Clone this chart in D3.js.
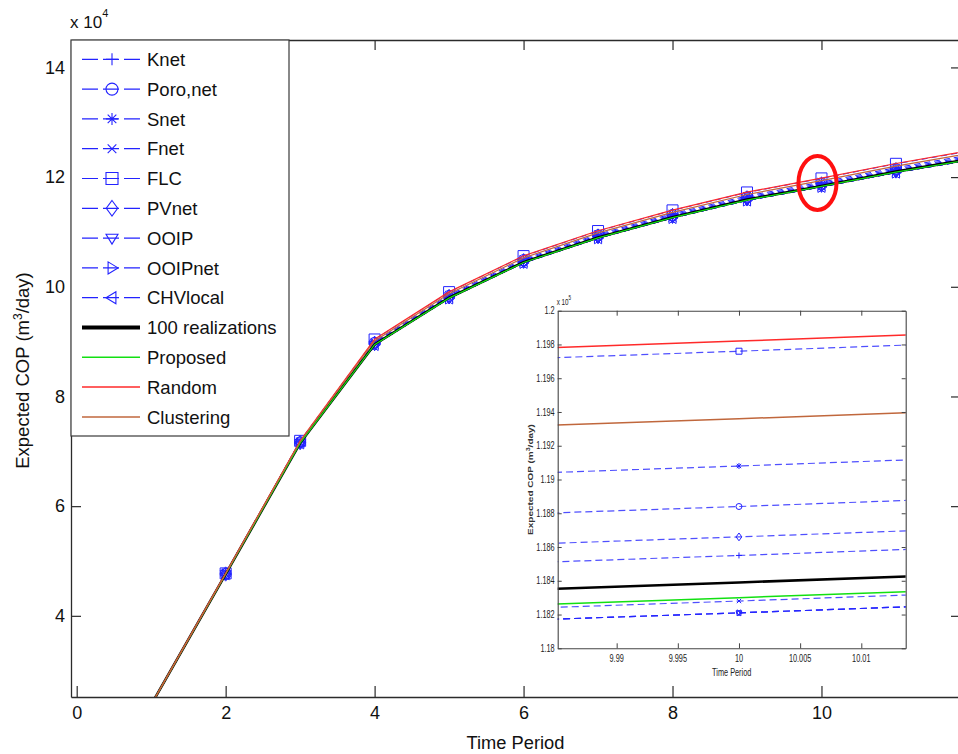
<!DOCTYPE html>
<html>
<head>
<meta charset="utf-8">
<script src="https://cdn.jsdelivr.net/npm/d3@7"></script>
<style>
  body { margin: 0; background: #fff; }
  svg { display: block; font-family: Arial, "Liberation Sans", sans-serif; }
</style>
</head>
<body>
<svg id="chart" width="958" height="754"></svg>
<script>
// ---- data: expected cumulative oil production per time period ----
const timePeriods   = [1, 2, 3, 4, 5, 6, 7, 8, 9, 10, 11, 12];
const knet          = [23800, 47616, 71548, 89604, 98120, 104628, 109136, 112844, 116052, 118550, 121166, 123473];
const poroNet       = [23800, 47645, 71635, 89793, 98338, 104860, 109383, 113105, 116328, 118840, 121468, 123786];
const snet          = [23800, 47669, 71707, 89949, 98518, 105052, 109587, 113321, 116556, 119080, 121718, 124045];
const fnet          = [23800, 47589, 71467, 89428, 97917, 104412, 108906, 112601, 115795, 118280, 120886, 123181];
const flc           = [23800, 47737, 71911, 90391, 99028, 105596, 110165, 113933, 117202, 119760, 122425, 124780];
const pvNet         = [23800, 47627, 71581, 89676, 98203, 104716, 109230, 112943, 116157, 118660, 121281, 123592];
const ooip          = [23800, 47582, 71446, 89383, 97865, 104356, 108847, 112538, 115729, 118210, 120813, 123106];
const ooipNet       = [23800, 47582, 71446, 89383, 97865, 104356, 108847, 112538, 115729, 118210, 120813, 123106];
const chvLocal      = [23800, 47582, 71446, 89383, 97865, 104356, 108847, 112538, 115729, 118210, 120813, 123106];
const realizations  = [23800, 47600, 71500, 89500, 98000, 104500, 109000, 112700, 115900, 118390, 121000, 123300];
const proposed      = [23800, 47591, 71473, 89441, 97932, 104428, 108923, 112619, 115814, 118300, 120906, 123203];
const randomSel     = [23800, 47743, 71929, 90430, 99073, 105644, 110216, 113987, 117259, 119820, 122487, 124844];
const clustering    = [23800, 47697, 71791, 90131, 98728, 105276, 109825, 113573, 116822, 119360, 122009, 124348];

const seriesNames = ["Knet", "Poro,net", "Snet", "Fnet", "FLC", "PVnet", "OOIP", "OOIPnet", "CHVlocal",
                     "100 realizations", "Proposed", "Random", "Clustering"];
const seriesValues = [knet, poroNet, snet, fnet, flc, pvNet, ooip, ooipNet, chvLocal,
                      realizations, proposed, randomSel, clustering];

// tick labels
const mainXTicks  = [0, 2, 4, 6, 8, 10];
const mainYTicks  = [40000, 60000, 80000, 100000, 120000, 140000];
const insetXTicks = [9.99, 9.995, 10, 10.005, 10.01];
const insetXLabels = ["9.99", "9.995", "10", "10.005", "10.01"];
const insetYTicks = [118000, 118200, 118400, 118600, 118800, 119000, 119200, 119400, 119600, 119800, 120000];
const insetYLabels = ["1.18", "1.182", "1.184", "1.186", "1.188", "1.19", "1.192", "1.194", "1.196", "1.198", "1.2"];

// ---- styling ----
const BLUE = "#2323ff";
const styles = [
  { color: BLUE, dash: true, width: 1, marker: "plus" },
  { color: BLUE, dash: true, width: 1, marker: "circle" },
  { color: BLUE, dash: true, width: 1, marker: "asterisk" },
  { color: BLUE, dash: true, width: 1, marker: "cross" },
  { color: BLUE, dash: true, width: 1, marker: "square" },
  { color: BLUE, dash: true, width: 1, marker: "diamond" },
  { color: BLUE, dash: true, width: 1, marker: "triDown" },
  { color: BLUE, dash: true, width: 1, marker: "triRight" },
  { color: BLUE, dash: true, width: 1, marker: "triLeft" },
  { color: "#000000", dash: false, width: 2.6, marker: null, legendWidth: 4 },
  { color: "#12e012", dash: false, width: 1.3, marker: null },
  { color: "#ff2a2a", dash: false, width: 1.2, marker: null },
  { color: "#c0673c", dash: false, width: 1.2, marker: null }
];

const series = seriesNames.map((name, i) => ({
  name,
  points: timePeriods.map((t, j) => ({ t, v: seriesValues[i][j] })),
  ...styles[i]
}));

function markerPath(type, s) {
  const a = s * 0.72;
  switch (type) {
    case "plus":     return `M${-s},0H${s}M0,${-s}V${s}`;
    case "circle":   return `M${s},0A${s},${s} 0 1,1 ${-s},0A${s},${s} 0 1,1 ${s},0Z`;
    case "asterisk": return `M${-s},0H${s}M0,${-s}V${s}M${-a},${-a}L${a},${a}M${-a},${a}L${a},${-a}`;
    case "cross":    return `M${-a},${-a}L${a},${a}M${-a},${a}L${a},${-a}`;
    case "square":   return `M${-s},${-s}H${s}V${s}H${-s}Z`;
    case "diamond":  return `M0,${-s * 1.3}L${s * 0.95},0L0,${s * 1.3}L${-s * 0.95},0Z`;
    case "triDown":  return `M${-s},${-s * 0.65}L${s},${-s * 0.65}L0,${s}Z`;
    case "triRight": return `M${-s * 0.65},${-s}L${s},0L${-s * 0.65},${s}Z`;
    case "triLeft":  return `M${s * 0.65},${-s}L${-s},0L${s * 0.65},${s}Z`;
  }
  return "";
}

const svg = d3.select("#chart");
const AXIS_COLOR = "#2b2b2b";

// ---- main axes ----
const M = { left: 71, right: 960, top: 40, bottom: 697 };
const x = d3.scaleLinear().domain([-0.0765, 11.86]).range([M.left, M.right]);
const y = d3.scaleLinear().domain([25200, 145000]).range([M.bottom, M.top]);

svg.append("defs").append("clipPath").attr("id", "mainClip")
  .append("rect").attr("x", M.left).attr("y", M.top)
  .attr("width", M.right - M.left).attr("height", M.bottom - M.top);

const plot = svg.append("g").attr("clip-path", "url(#mainClip)");
const line = d3.line().x(d => x(d.t)).y(d => y(d.v));

series.forEach(s => {
  plot.append("path")
    .datum(s.points)
    .attr("d", line)
    .attr("fill", "none")
    .attr("stroke", s.color)
    .attr("stroke-width", s.width)
    .attr("stroke-dasharray", s.dash ? "6,4" : null);
  if (s.marker) {
    plot.selectAll(null).data(s.points).enter().append("path")
      .attr("transform", d => `translate(${x(d.t)},${y(d.v)})`)
      .attr("d", markerPath(s.marker, 5.5))
      .attr("fill", "none")
      .attr("stroke", s.color)
      .attr("stroke-width", 1);
  }
});

// highlight around period 10
const hl = realizations[timePeriods.indexOf(10)];
svg.append("ellipse")
  .attr("cx", x(10) - 4).attr("cy", y(hl) - 3)
  .attr("rx", 19).attr("ry", 27)
  .attr("fill", "none").attr("stroke", "#ff1010").attr("stroke-width", 4);

function styleAxis(g, fontSize) {
  g.select(".domain").attr("stroke", AXIS_COLOR).attr("stroke-width", 1.3);
  g.selectAll(".tick line").attr("stroke", AXIS_COLOR).attr("stroke-width", 1.2);
  g.selectAll(".tick text").attr("fill", "#111").attr("font-size", fontSize)
    .attr("font-family", "Arial, 'Liberation Sans', sans-serif");
}

const gBottom = svg.append("g").attr("transform", `translate(0,${M.bottom})`)
  .call(d3.axisBottom(x).tickValues(mainXTicks).tickSizeInner(-11).tickSizeOuter(0).tickPadding(9).tickFormat(d3.format("d")));
styleAxis(gBottom, 18);
const gTop = svg.append("g").attr("transform", `translate(0,${M.top})`)
  .call(d3.axisTop(x).tickValues(mainXTicks).tickSizeInner(-10).tickSizeOuter(0).tickFormat(""));
styleAxis(gTop, 18);
const gLeft = svg.append("g").attr("transform", `translate(${M.left},0)`)
  .call(d3.axisLeft(y).tickValues(mainYTicks).tickSizeInner(-10).tickSizeOuter(0).tickPadding(6).tickFormat(d => d / 1e4));
styleAxis(gLeft, 18);
const gRight = svg.append("g").attr("transform", `translate(${M.right - 1},0)`)
  .call(d3.axisRight(y).tickValues(mainYTicks).tickSizeInner(-8).tickSizeOuter(0).tickFormat(""));
styleAxis(gRight, 18);

// exponent label
const expo = svg.append("text").attr("x", 70).attr("y", 28).attr("font-size", 17).attr("fill", "#111");
expo.append("tspan").text("x 10");
expo.append("tspan").attr("dy", -11).attr("font-size", 11).text("4");

// axis titles
svg.append("text").attr("x", (M.left + M.right) / 2).attr("y", 749)
  .attr("text-anchor", "middle").attr("font-size", 18.3).attr("fill", "#111").text("Time Period");
const yTitle = svg.append("text")
  .attr("transform", `translate(29,${(M.top + M.bottom) / 2 + 2}) rotate(-90)`)
  .attr("text-anchor", "middle").attr("font-size", 18.5).attr("fill", "#111");
yTitle.append("tspan").text("Expected COP (m");
yTitle.append("tspan").attr("dy", -7).attr("font-size", 12).text("3");
yTitle.append("tspan").attr("dy", 7).text("/day)");

// ---- legend ----
const legend = svg.append("g");
legend.append("rect").attr("x", 71).attr("y", 40).attr("width", 218).attr("height", 396)
  .attr("fill", "#fff").attr("stroke", "#3a3a3a").attr("stroke-width", 1.2);
series.forEach((s, i) => {
  const ly = 59.3 + i * 29.8;
  legend.append("line").attr("x1", 82).attr("x2", 140).attr("y1", ly).attr("y2", ly)
    .attr("stroke", s.color).attr("stroke-width", s.legendWidth || (s.dash ? 1.2 : 1.5))
    .attr("stroke-dasharray", s.dash ? "16,5" : null);
  if (s.marker) {
    legend.append("path").attr("transform", `translate(112,${ly})`)
      .attr("d", markerPath(s.marker, 6)).attr("fill", "none")
      .attr("stroke", s.color).attr("stroke-width", 1.1);
  }
  legend.append("text").attr("x", 147).attr("y", ly).attr("dy", "0.36em")
    .attr("font-size", 18.5).attr("fill", "#111").text(s.name);
});

// ---- inset: close-up around period 10 ----
const I = { left: 557.7, right: 905.7, top: 310.7, bottom: 648.3 };
const SQ = 0.7; // horizontal compression of the inset lettering
const xi = d3.scaleLinear().domain([9.98518, 10.01363]).range([I.left, I.right]);
const yi = d3.scaleLinear().domain([118000, 120000]).range([I.bottom, I.top]);

svg.select("defs").append("clipPath").attr("id", "insetClip")
  .append("rect").attr("x", I.left).attr("y", I.top)
  .attr("width", I.right - I.left).attr("height", I.bottom - I.top);

const inset = svg.append("g");
inset.append("rect").attr("x", I.left).attr("y", I.top)
  .attr("width", I.right - I.left).attr("height", I.bottom - I.top).attr("fill", "#fff");

const iplot = inset.append("g").attr("clip-path", "url(#insetClip)");
const iline = d3.line().x(d => xi(d.t)).y(d => yi(d.v));
series.forEach(s => {
  iplot.append("path").datum(s.points).attr("d", iline)
    .attr("fill", "none").attr("stroke", s.color)
    .attr("stroke-width", s.dash ? 1.2 : (s.width > 2 ? 2.6 : 1.5))
    .attr("stroke-dasharray", s.dash ? "7,4" : null)
    .attr("stroke-opacity", s.dash ? 0.8 : 1);
  if (s.marker) {
    iplot.selectAll(null).data(s.points.filter(d => d.t === 10)).enter().append("path")
      .attr("transform", d => `translate(${xi(d.t)},${yi(d.v)})`)
      .attr("d", markerPath(s.marker, 3))
      .attr("fill", "none").attr("stroke", s.color).attr("stroke-width", 1);
  }
});

function styleInsetAxis(g) {
  g.select(".domain").attr("stroke", "#444").attr("stroke-width", 1.1);
  g.selectAll(".tick line").attr("stroke", "#444").attr("stroke-width", 1);
}

const giB = inset.append("g").attr("transform", `translate(0,${I.bottom})`)
  .call(d3.axisBottom(xi).tickValues(insetXTicks).tickSizeInner(-5).tickSizeOuter(0).tickFormat(""));
styleInsetAxis(giB);
const giT = inset.append("g").attr("transform", `translate(0,${I.top})`)
  .call(d3.axisTop(xi).tickValues(insetXTicks).tickSizeInner(-5).tickSizeOuter(0).tickFormat(""));
styleInsetAxis(giT);
const giL = inset.append("g").attr("transform", `translate(${I.left},0)`)
  .call(d3.axisLeft(yi).tickValues(insetYTicks).tickSizeInner(-4).tickSizeOuter(0).tickFormat(""));
styleInsetAxis(giL);
const giR = inset.append("g").attr("transform", `translate(${I.right},0)`)
  .call(d3.axisRight(yi).tickValues(insetYTicks).tickSizeInner(-4).tickSizeOuter(0).tickFormat(""));
styleInsetAxis(giR);

// inset tick labels (narrow lettering)
insetYTicks.forEach((v, k) => {
  inset.append("text")
    .attr("transform", `translate(${I.left - 3},${yi(v)}) scale(${SQ},1)`)
    .attr("dy", "0.34em").attr("text-anchor", "end")
    .attr("font-size", 10.5).attr("fill", "#222").text(insetYLabels[k]);
});
insetXTicks.forEach((v, k) => {
  inset.append("text")
    .attr("transform", `translate(${xi(v)},${I.bottom + 14}) scale(${SQ},1)`)
    .attr("text-anchor", "middle")
    .attr("font-size", 10.5).attr("fill", "#222").text(insetXLabels[k]);
});
inset.append("text")
  .attr("transform", `translate(${(I.left + I.right) / 2},${I.bottom + 28}) scale(${SQ},1)`)
  .attr("text-anchor", "middle").attr("font-size", 10.5).attr("fill", "#222").text("Time Period");

const iexp = inset.append("text")
  .attr("transform", `translate(${I.left - 1},${I.top - 6}) scale(${SQ},1)`)
  .attr("font-size", 9).attr("fill", "#222");
iexp.append("tspan").text("x 10");
iexp.append("tspan").attr("dy", -5).attr("font-size", 6.5).text("5");

const iyt = inset.append("text")
  .attr("transform", `translate(533,${(I.top + I.bottom) / 2}) scale(${SQ},1) rotate(-90)`)
  .attr("text-anchor", "middle").attr("font-size", 10).attr("font-weight", "bold").attr("fill", "#333");
iyt.append("tspan").text("Expected COP (m");
iyt.append("tspan").attr("dy", -4).attr("font-size", 7).text("3");
iyt.append("tspan").attr("dy", 4).text("/day)");
</script>
</body>
</html>
